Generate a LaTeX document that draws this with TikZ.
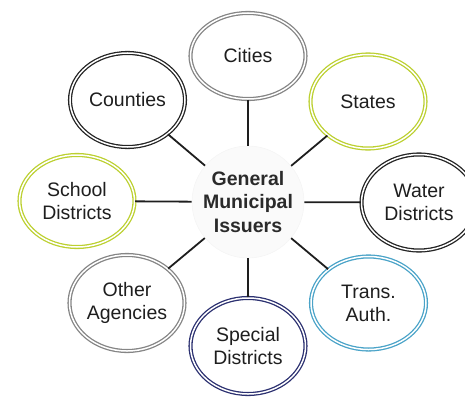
\documentclass[tikz,border=0pt]{standalone}
\usepackage{fontspec}
\setmainfont{Liberation Sans}
\usetikzlibrary{shapes.geometric}
\definecolor{cgray}{HTML}{858585}
\definecolor{cblack}{HTML}{242424}
\definecolor{cgreen}{HTML}{BCD030}
\definecolor{cnavy}{HTML}{2B3070}
\definecolor{cblue}{HTML}{4AA3C8}
\definecolor{ctext}{HTML}{1E1E1E}
\definecolor{ccenter}{HTML}{2A2A2A}
\tikzset{
  issuer/.style={ellipse, draw=#1, double=white, line width=1.3pt, double distance=1.5pt,
    inner sep=0pt, minimum width=115pt, minimum height=94pt, align=center,
    font=\fontsize{19.5}{23}\selectfont, text=ctext},
  hub/.style={circle, fill=gray!4, draw=gray!8, line width=0.6pt, minimum size=112pt, inner sep=0pt,
    align=center, font=\fontsize{19.5}{23.5}\selectfont\bfseries, text=ccenter},
  link/.style={draw=ctext, line width=1.8pt}
}
\begin{document}
\begin{tikzpicture}[x=1pt,y=-1pt]
\useasboundingbox (0,0) rectangle (465,396);
\node[hub] (center) at (248,202) {General\\Municipal\\Issuers};
\node[issuer=cgray, minimum height=86pt] (cities) at (248,56) {Cities};
\node[issuer=cblack] (counties) at (127.5,100) {Counties};
\node[issuer=cgreen] (states) at (368,101.5) {States};
\node[issuer=cgreen, minimum height=92pt] (school) at (77,201) {School\\Districts};
\node[issuer=cblack, minimum height=96pt] (water) at (419,202.5) {Water\\Districts};
\node[issuer=cgray, minimum height=96pt] (other) at (127,303) {Other\\Agencies};
\node[issuer=cnavy, minimum height=96pt] (special) at (248,346) {Special\\Districts};
\node[issuer=cblue, minimum height=93pt] (trans) at (368.5,303) {Trans.\\Auth.};
\foreach \n in {cities,counties,states,school,water,other,special,trans}
  \draw[link] (\n) -- (center);
\end{tikzpicture}
\end{document}
